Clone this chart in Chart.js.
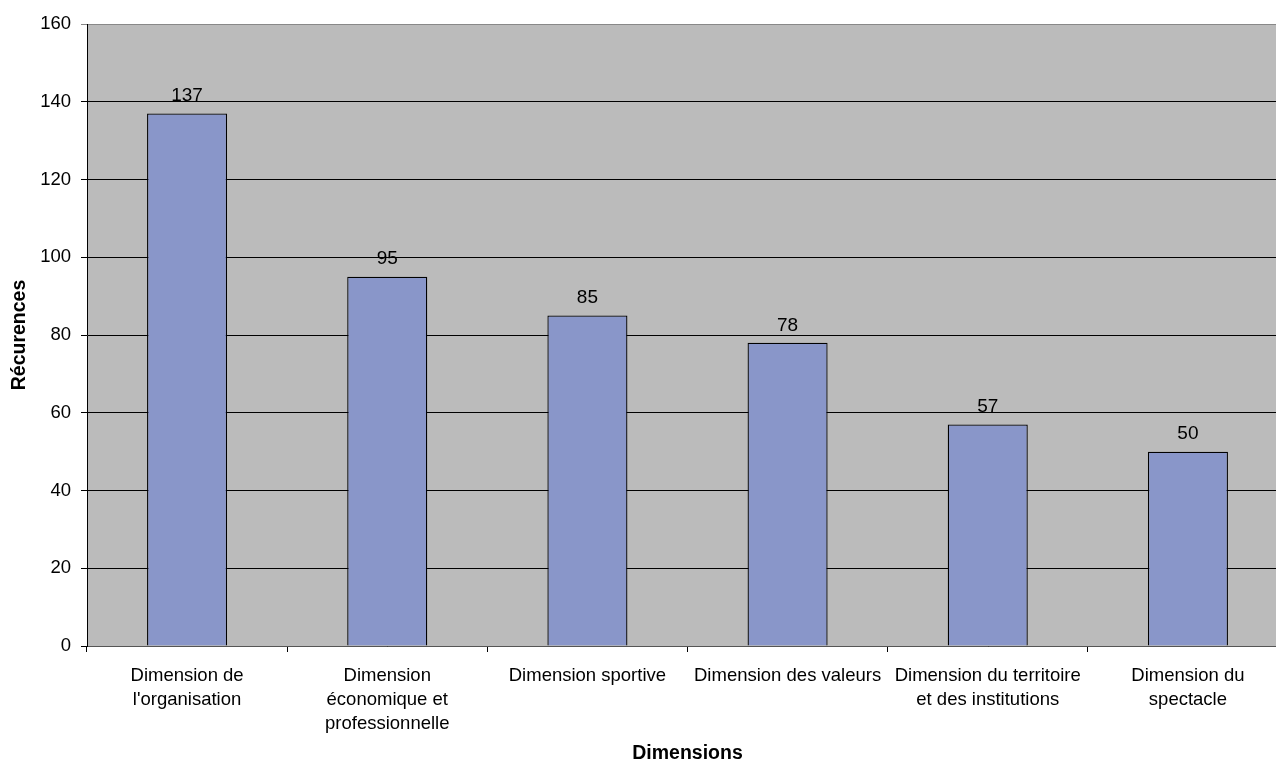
<!DOCTYPE html>
<html>
<head>
<meta charset="utf-8">
<script src="https://cdn.jsdelivr.net/npm/chart.js"></script>
<style>
  html, body { margin: 0; padding: 0; background: #fff; overflow: hidden; }
</style>
</head>
<body>
<canvas id="myChart" width="1288" height="760"></canvas>
<script>
    // données
    const dimensions = [
        ['Dimension de', "l'organisation"],
        ['Dimension', 'économique et', 'professionnelle'],
        'Dimension sportive',
        'Dimension des valeurs',
        ['Dimension du territoire', 'et des institutions'],
        ['Dimension du', 'spectacle']
    ];
    const recurrences = [137, 95, 85, 78, 57, 50];
    const yTicks = [0, 20, 40, 60, 80, 100, 120, 140, 160];

    const fontFamily = '"Liberation Sans", Arial, sans-serif';

    // fond gris de la zone de tracé
    const plotBackground = {
        id: 'plotBackground',
        beforeDraw(chart) {
            const a = chart.chartArea;
            const ctx = chart.ctx;
            ctx.save();
            ctx.fillStyle = '#bbbbbb';
            ctx.fillRect(a.left, a.top, a.right - a.left, a.bottom - a.top);
            ctx.restore();
        }
    };

    // valeurs au-dessus des barres
    const valueLabels = {
        id: 'valueLabels',
        afterDatasetsDraw(chart) {
            const ctx = chart.ctx;
            const meta = chart.getDatasetMeta(0);
            ctx.save();
            ctx.font = '19px ' + fontFamily;
            ctx.fillStyle = '#000';
            ctx.textAlign = 'center';
            ctx.textBaseline = 'bottom';
            meta.data.forEach((bar, i) => {
                ctx.fillText(recurrences[i], bar.x, bar.y - 8);
            });
            ctx.restore();
        }
    };

    let ctx = document.getElementById('myChart').getContext('2d');
    let barChart = new Chart(ctx, {
        type: 'bar',
        data: {
            labels: dimensions,
            datasets: [
                {
                    label: 'Récurences',
                    data: recurrences,
                    backgroundColor: '#8996c9',
                    borderColor: '#000000',
                    borderWidth: 1.3,
                    barPercentage: 0.4,
                    categoryPercentage: 1.0,
                }
            ],
        },
        options: {
            responsive: false,
            animation: false,
            layout: { padding: { top: 24, right: 0, bottom: 0, left: 0 } },
            plugins: {
                legend: { display: false },
                tooltip: { enabled: false },
            },
            scales: {
                x: {
                    grid: {
                        offset: true,
                        drawOnChartArea: false,
                        drawTicks: true,
                        tickLength: 6,
                        color: '#000',
                    },
                    border: { color: '#555', width: 1 },
                    ticks: {
                        color: '#000',
                        font: { family: fontFamily, size: 18.5, lineHeight: '24px' },
                        padding: 12,
                        maxRotation: 0,
                        autoSkip: false,
                    },
                    title: {
                        display: true,
                        text: 'Dimensions',
                        color: '#000',
                        font: { family: fontFamily, size: 19.5, weight: 'bold', lineHeight: '12px' },
                        padding: 0,
                    },
                    afterFit(scale) { scale.height = 114; },
                },
                y: {
                    min: 0,
                    max: 160,
                    afterBuildTicks(scale) {
                        scale.ticks = yTicks.map(v => ({ value: v }));
                    },
                    grid: {
                        color: (c) => c.tick && c.tick.value === 160 ? '#888' : '#000',
                        tickLength: 6,
                        drawTicks: true,
                    },
                    border: { color: '#000', width: 1 },
                    ticks: {
                        color: '#000',
                        font: { family: fontFamily, size: 18.5 },
                        padding: 10,
                    },
                    title: {
                        display: true,
                        text: 'Récurences',
                        color: '#000',
                        font: { family: fontFamily, size: 19.5, weight: 'bold', lineHeight: '40px' },
                        padding: 0,
                    },
                    afterFit(scale) { scale.width = 87; },
                },
            },
        },
        plugins: [plotBackground, valueLabels],
    });
</script>
</body>
</html>
